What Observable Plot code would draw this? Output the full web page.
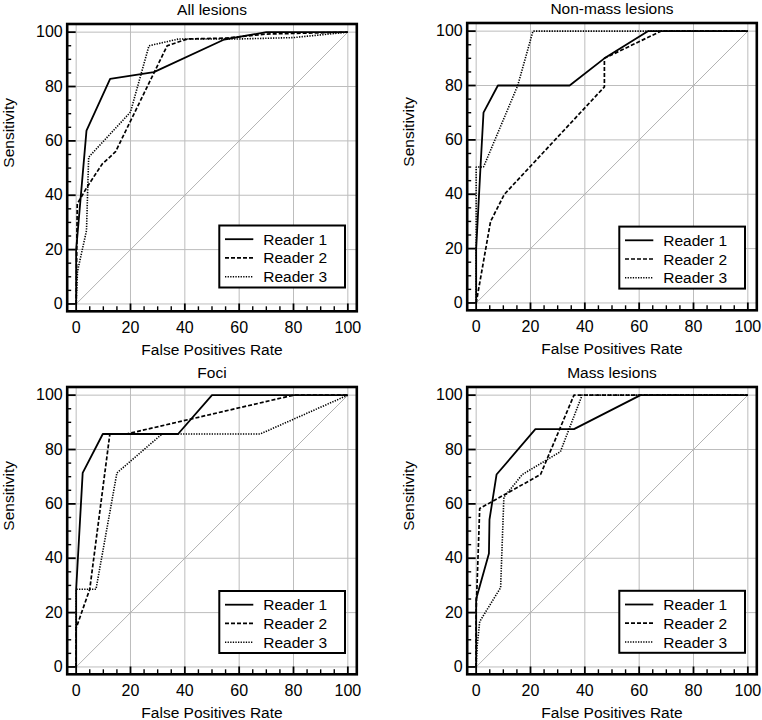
<!DOCTYPE html>
<html><head><meta charset="utf-8">
<script src="https://cdn.jsdelivr.net/npm/d3@7"></script>
<script src="https://cdn.jsdelivr.net/npm/@observablehq/plot@0.6"></script>
<style>
body{margin:0;background:#fff;}
#wrap{position:relative;width:762px;height:720px;overflow:hidden;background:#fff;font-family:"Liberation Sans",Arial,sans-serif;}
#wrap svg{position:absolute;overflow:visible;}
</style></head><body><div id="wrap"></div>
<script>
const panelTitles = ["All lesions", "Non-mass lesions", "Foci", "Mass lesions"];
const readers = ["Reader 1", "Reader 2", "Reader 3"];
const xLabel = "False Positives Rate";
const yLabel = "Sensitivity";
const majorTicks = [0, 20, 40, 60, 80, 100];
const minorTicks = [5, 10, 15, 25, 30, 35, 45, 50, 55, 65, 70, 75, 85, 90, 95];
const diagonal = [0, 100];

// All lesions
const allR1Fpr  = [0, 0, 3.8, 12.5, 28.6, 54.5, 70, 100];
const allR1Sens = [0, 20, 63.8, 82.8, 85.3, 97.3, 100, 100];
const allR2Fpr  = [0, 0.4, 4, 9.6, 14.5, 33.5, 41, 55, 70, 100];
const allR2Sens = [0, 36.8, 43, 51.5, 56, 95, 97.5, 97.8, 99.3, 100];
const allR3Fpr  = [0, 0.5, 3.8, 4.6, 20, 26.8, 37.8, 60, 80, 100];
const allR3Sens = [0, 12, 27, 54, 70.6, 95, 97.5, 97.5, 98, 100];

// Non-mass lesions
const nmR1Fpr  = [0, 0, 1.6, 2.7, 8, 34.4, 47.2, 63.2, 100];
const nmR1Sens = [0, 20, 50, 70, 80, 80, 90, 100, 100];
const nmR2Fpr  = [0, 5.3, 10.4, 47.2, 47.2, 68, 100];
const nmR2Sens = [0, 30, 40, 79.5, 90, 100, 100];
const nmR3Fpr  = [0, 0, 2.7, 15.3, 20.9, 100];
const nmR3Sens = [0, 50, 50, 80, 100, 100];

// Foci
const fociR1Fpr  = [0, 0, 2.4, 9.8, 37.5, 50, 100];
const fociR1Sens = [0, 28.6, 71.4, 85.7, 85.7, 100, 100];
const fociR2Fpr  = [0, 0, 5, 12.4, 18.5, 80, 100];
const fociR2Sens = [0, 14.3, 28.6, 85.7, 85.7, 100, 100];
const fociR3Fpr  = [0, 0, 7.3, 15, 31.6, 67.7, 100];
const fociR3Sens = [0, 28.6, 28.6, 71.4, 85.7, 85.7, 100];

// Mass lesions
const massR1Fpr  = [0, 0, 4.7, 4.9, 7.5, 21.8, 36, 60.5, 100];
const massR1Sens = [0, 25, 41.7, 54.2, 70.8, 87.5, 87.5, 100, 100];
const massR2Fpr  = [0, 0, 1.3, 23.7, 36, 100];
const massR2Sens = [0, 20.8, 58.3, 70.8, 100, 100];
const massR3Fpr  = [0, 0.4, 1.3, 9, 10.2, 17, 31, 39, 100];
const massR3Sens = [0, 8, 16.7, 29.2, 62.5, 70.8, 79.2, 100, 100];

const panelSeries = [
  [[allR1Fpr, allR1Sens], [allR2Fpr, allR2Sens], [allR3Fpr, allR3Sens]],
  [[nmR1Fpr, nmR1Sens], [nmR2Fpr, nmR2Sens], [nmR3Fpr, nmR3Sens]],
  [[fociR1Fpr, fociR1Sens], [fociR2Fpr, fociR2Sens], [fociR3Fpr, fociR3Sens]],
  [[massR1Fpr, massR1Sens], [massR2Fpr, massR2Sens], [massR3Fpr, massR3Sens]]
];

const panelLeft = [0, 400, 0, 400];
const panelTop = [0, -0.6, 363, 362.5];
const legendTop = [224.5, 226.6, 227, 226.8];
const dashes = [null, "4,2", "1.3,1.3"];
const widths = [1.8, 1.7, 1.6];

const xDom = [-3.3, 103.3], yDom = [-2.7, 103];
const FONT = "'Liberation Sans', Arial, sans-serif";
const wrap = document.getElementById("wrap");

panelTitles.forEach((title, p) => {
  const curveMarks = panelSeries[p].map(([fx, sy], r) => {
    const rows = fx.map((v, i) => ({fpr: v, sens: sy[i], reader: readers[r]}));
    return Plot.line(rows, {x: "fpr", y: "sens", stroke: "black", strokeWidth: widths[r],
      strokeDasharray: dashes[r] || undefined, strokeLinejoin: "miter", strokeLinecap: "butt"});
  });
  const svg = Plot.plot({
    width: 381, height: 357,
    marginLeft: 66.7, marginRight: 24.7, marginTop: 23.5, marginBottom: 46.2,
    x: {domain: xDom, axis: null},
    y: {domain: yDom, axis: null},
    style: {fontFamily: FONT, fontSize: "15.5px", color: "black", background: "transparent", overflow: "visible"},
    marks: [
      Plot.gridX(majorTicks, {stroke: "#bdbdbd", strokeOpacity: 1, strokeWidth: 1}),
      Plot.gridY(majorTicks, {stroke: "#bdbdbd", strokeOpacity: 1, strokeWidth: 1}),
      Plot.line(diagonal, {x: d => d, y: d => d, stroke: "#b3b3b3", strokeWidth: 1}),
      Plot.ruleY(majorTicks, {y: d => d, x1: xDom[0], x2: 0, stroke: "black", strokeWidth: 1.8}),
      Plot.ruleY(minorTicks, {y: d => d, x1: xDom[0], x2: -1.65, stroke: "black", strokeWidth: 1.4}),
      Plot.ruleX(majorTicks, {x: d => d, y1: yDom[0], y2: 0, stroke: "black", strokeWidth: 1.8}),
      Plot.ruleX(minorTicks, {x: d => d, y1: yDom[0], y2: -1.05, stroke: "black", strokeWidth: 1.4}),
      ...curveMarks,
      Plot.axisX(majorTicks, {anchor: "bottom", tickSize: 0, tickPadding: 10, fontSize: 16, label: null}),
      Plot.axisY(majorTicks, {anchor: "left", tickSize: 0, tickPadding: 4.5, fontSize: 16, label: null}),
      Plot.frame({stroke: "black", strokeWidth: 2.6}),
      Plot.text([title], {frameAnchor: "top", dy: -9.5, lineAnchor: "bottom", fontSize: 15.5}),
      Plot.text([xLabel], {frameAnchor: "bottom", dy: 43.6, lineAnchor: "bottom", fontSize: 15.5}),
      Plot.text([yLabel], {frameAnchor: "left", dx: -53.5, rotate: -90, lineAnchor: "bottom", fontSize: 15.5})
    ]
  });
  svg.style.left = panelLeft[p] + "px";
  svg.style.top = panelTop[p] + "px";
  wrap.appendChild(svg);

  // legend
  const lg = d3.select(svg).append("g").attr("font-family", FONT).attr("font-size", 15.5)
    .attr("text-anchor", "start");
  const top = legendTop[p];
  lg.append("rect").attr("x", 219.3).attr("y", top + 1).attr("width", 125.7).attr("height", 62)
    .attr("fill", "white").attr("stroke", "black").attr("stroke-width", 2);
  const rowY = [14.7, 33.4, 52.2];
  readers.forEach((name, r) => {
    lg.append("line").attr("x1", 225).attr("x2", 253.3)
      .attr("y1", top + rowY[r]).attr("y2", top + rowY[r])
      .attr("stroke", "black").attr("stroke-width", widths[r])
      .attr("stroke-dasharray", dashes[r]);
    lg.append("text").attr("x", 263.3).attr("y", top + rowY[r]).attr("dy", "0.36em")
      .attr("text-anchor", "start").attr("fill", "black").text(name);
  });
});
</script>
</body></html>
